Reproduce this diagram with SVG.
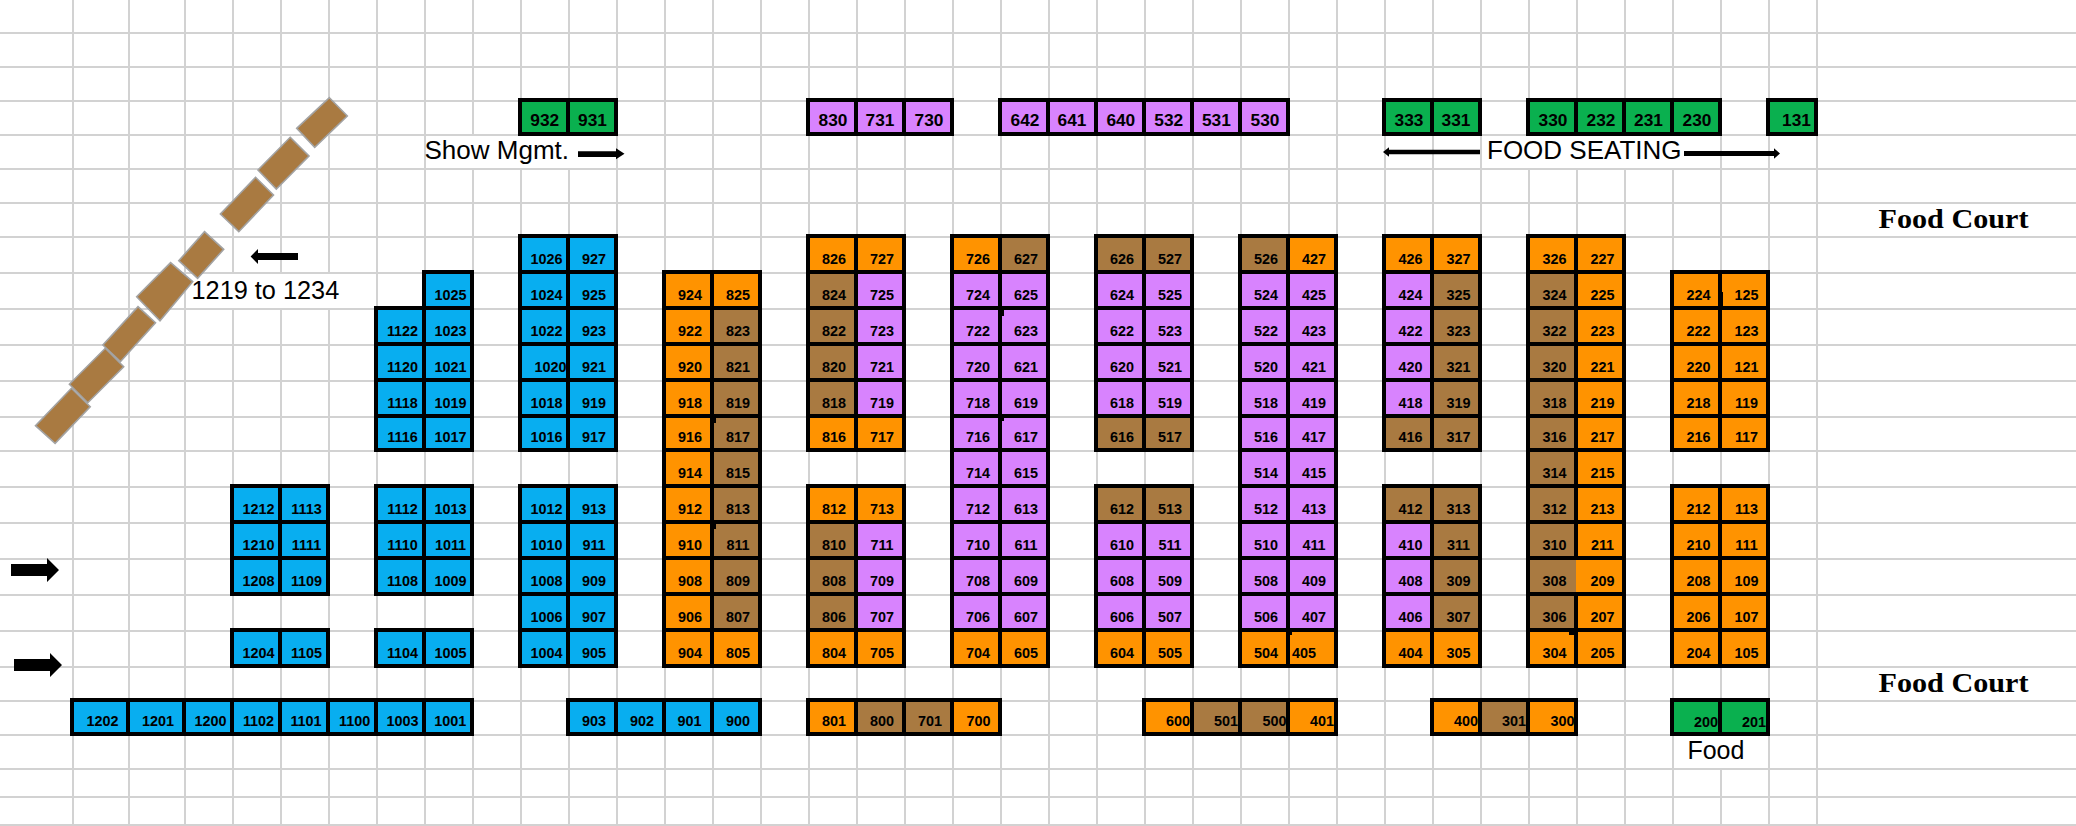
<svg xmlns="http://www.w3.org/2000/svg" width="2076" height="826" viewBox="0 0 2076 826">
<style>
.grid line{stroke:#d2d2d2;stroke-width:2}
.c rect,rect.c{stroke:#000;stroke-width:4}
.bl{fill:#08AEF0}.or{fill:#FF9300}.br{fill:#A97A41}.pu{fill:#D883FE}.gr{fill:#0AB04F}
text{font-family:"Liberation Sans",Arial,sans-serif;fill:#000}
.n text,text.n{font-size:14.4px;font-weight:700;text-anchor:middle}
.t text,text.t{font-size:17.3px;font-weight:700;text-anchor:middle}
.lab{font-size:26px}
.fc{font-family:"Liberation Serif","Times New Roman",serif;font-size:28px;font-weight:700}
.tilt polygon{fill:#A97A41;stroke:#a3a3a3;stroke-width:1.6}
#connectors polygon{fill:#000}
</style>
<g class="grid">
<line x1="0" x2="2076" y1="33" y2="33"/><line x1="0" x2="2076" y1="67" y2="67"/><line x1="0" x2="2076" y1="101" y2="101"/><line x1="0" x2="2076" y1="135" y2="135"/><line x1="0" x2="2076" y1="169" y2="169"/><line x1="0" x2="2076" y1="203" y2="203"/><line x1="0" x2="2076" y1="237" y2="237"/><line x1="0" x2="2076" y1="273" y2="273"/><line x1="0" x2="2076" y1="309" y2="309"/><line x1="0" x2="2076" y1="345" y2="345"/><line x1="0" x2="2076" y1="381" y2="381"/><line x1="0" x2="2076" y1="417" y2="417"/><line x1="0" x2="2076" y1="451" y2="451"/><line x1="0" x2="2076" y1="487" y2="487"/><line x1="0" x2="2076" y1="523" y2="523"/><line x1="0" x2="2076" y1="559" y2="559"/><line x1="0" x2="2076" y1="595" y2="595"/><line x1="0" x2="2076" y1="631" y2="631"/><line x1="0" x2="2076" y1="667" y2="667"/><line x1="0" x2="2076" y1="701" y2="701"/><line x1="0" x2="2076" y1="735" y2="735"/><line x1="0" x2="2076" y1="769" y2="769"/><line x1="0" x2="2076" y1="797" y2="797"/><line x1="0" x2="2076" y1="825" y2="825"/>
<line y1="0" y2="826" x1="73" x2="73"/><line y1="0" y2="826" x1="129" x2="129"/><line y1="0" y2="826" x1="185" x2="185"/><line y1="0" y2="826" x1="233" x2="233"/><line y1="0" y2="826" x1="281" x2="281"/><line y1="0" y2="826" x1="329" x2="329"/><line y1="0" y2="826" x1="377" x2="377"/><line y1="0" y2="826" x1="425" x2="425"/><line y1="0" y2="826" x1="473" x2="473"/><line y1="0" y2="826" x1="521" x2="521"/><line y1="0" y2="826" x1="569" x2="569"/><line y1="0" y2="826" x1="617" x2="617"/><line y1="0" y2="826" x1="665" x2="665"/><line y1="0" y2="826" x1="713" x2="713"/><line y1="0" y2="826" x1="761" x2="761"/><line y1="0" y2="826" x1="809" x2="809"/><line y1="0" y2="826" x1="857" x2="857"/><line y1="0" y2="826" x1="905" x2="905"/><line y1="0" y2="826" x1="953" x2="953"/><line y1="0" y2="826" x1="1001" x2="1001"/><line y1="0" y2="826" x1="1049" x2="1049"/><line y1="0" y2="826" x1="1097" x2="1097"/><line y1="0" y2="826" x1="1145" x2="1145"/><line y1="0" y2="826" x1="1193" x2="1193"/><line y1="0" y2="826" x1="1241" x2="1241"/><line y1="0" y2="826" x1="1289" x2="1289"/><line y1="0" y2="826" x1="1337" x2="1337"/><line y1="0" y2="826" x1="1385" x2="1385"/><line y1="0" y2="826" x1="1433" x2="1433"/><line y1="0" y2="826" x1="1481" x2="1481"/><line y1="0" y2="826" x1="1529" x2="1529"/><line y1="0" y2="826" x1="1577" x2="1577"/><line y1="0" y2="826" x1="1625" x2="1625"/><line y1="0" y2="826" x1="1673" x2="1673"/><line y1="0" y2="826" x1="1721" x2="1721"/><line y1="0" y2="826" x1="1769" x2="1769"/><line y1="0" y2="826" x1="1817" x2="1817"/>
</g>
<g id="label-backgrounds" fill="#fff">
<rect x="186" y="274" width="190" height="34"/>
<rect x="426" y="136" width="190" height="32"/>
<rect x="1482" y="136" width="238" height="32"/>
<rect x="1674" y="736" width="94" height="32"/>
</g>
<g id="tilted-row" class="tilt">
<polygon points="329.4,97.7 347.3,116 314.7,147.3 296.7,128.3"/>
<polygon points="290.2,137.3 309,156 276.3,189 258,170"/>
<polygon points="255.5,177.3 273.5,195 238.8,231.7 220.4,214"/>
<polygon points="204.5,231.7 223.7,249.3 197.6,278.3 178.8,260.7"/>
<polygon points="170.6,262.7 192.7,281.7 160,320.7 136.7,296.7"/>
<polygon points="138,306.7 155.5,322.7 120.4,361.7 102.9,345"/>
<polygon points="105.3,348.3 123.7,366.7 87.8,402.7 69.4,384.3"/>
<polygon points="71.4,388.3 90.2,406.7 55.1,443.3 35.5,425.7"/>
</g>
<g id="top-row" class="c t">
<g id="n932"><rect class="gr" x="520" y="100" width="48" height="34"/><text x="544.7" y="126">932</text></g>
<g id="n931"><rect class="gr" x="568" y="100" width="48" height="34"/><text x="592.5" y="126">931</text></g>
<g id="n830"><rect class="pu" x="808" y="100" width="48" height="34"/><text x="833" y="126">830</text></g>
<g id="n731"><rect class="pu" x="856" y="100" width="48" height="34"/><text x="880" y="126">731</text></g>
<g id="n730"><rect class="pu" x="904" y="100" width="48" height="34"/><text x="929" y="126">730</text></g>
<g id="n642"><rect class="pu" x="1000" y="100" width="48" height="34"/><text x="1025" y="126">642</text></g>
<g id="n641"><rect class="pu" x="1048" y="100" width="48" height="34"/><text x="1072" y="126">641</text></g>
<g id="n640"><rect class="pu" x="1096" y="100" width="48" height="34"/><text x="1120.8" y="126">640</text></g>
<g id="n532"><rect class="pu" x="1144" y="100" width="48" height="34"/><text x="1168.7" y="126">532</text></g>
<g id="n531"><rect class="pu" x="1192" y="100" width="48" height="34"/><text x="1216.4" y="126">531</text></g>
<g id="n530"><rect class="pu" x="1240" y="100" width="48" height="34"/><text x="1265" y="126">530</text></g>
<g id="n333"><rect class="gr" x="1384" y="100" width="48" height="34"/><text x="1409" y="126">333</text></g>
<g id="n331"><rect class="gr" x="1432" y="100" width="48" height="34"/><text x="1456" y="126">331</text></g>
<g id="n330"><rect class="gr" x="1528" y="100" width="48" height="34"/><text x="1553" y="126">330</text></g>
<g id="n232"><rect class="gr" x="1576" y="100" width="48" height="34"/><text x="1601" y="126">232</text></g>
<g id="n231"><rect class="gr" x="1624" y="100" width="48" height="34"/><text x="1648.5" y="126">231</text></g>
<g id="n230"><rect class="gr" x="1672" y="100" width="48" height="34"/><text x="1697" y="126">230</text></g>
<g id="n131"><rect class="gr" x="1768" y="100" width="48" height="34"/><text x="1796.5" y="126">131</text></g>
</g>
<g id="block-a" class="c n">
<g id="n1212"><rect class="bl" x="232" y="486" width="48" height="36"/><text x="258.5" y="514">1212</text></g>
<g id="n1113"><rect class="bl" x="280" y="486" width="48" height="36"/><text x="306.5" y="514">1113</text></g>
<g id="n1210"><rect class="bl" x="232" y="522" width="48" height="36"/><text x="258.5" y="550">1210</text></g>
<g id="n1111"><rect class="bl" x="280" y="522" width="48" height="36"/><text x="306.5" y="550">1111</text></g>
<g id="n1208"><rect class="bl" x="232" y="558" width="48" height="36"/><text x="258.5" y="586">1208</text></g>
<g id="n1109"><rect class="bl" x="280" y="558" width="48" height="36"/><text x="306.5" y="586">1109</text></g>
<g id="n1204"><rect class="bl" x="232" y="630" width="48" height="36"/><text x="258.5" y="658">1204</text></g>
<g id="n1105"><rect class="bl" x="280" y="630" width="48" height="36"/><text x="306.5" y="658">1105</text></g>
</g>
<g id="block-b" class="c n">
<g id="n1025"><rect class="bl" x="424" y="272" width="48" height="36"/><text x="450.5" y="300">1025</text></g>
<g id="n1122"><rect class="bl" x="376" y="308" width="48" height="36"/><text x="402.5" y="336">1122</text></g>
<g id="n1023"><rect class="bl" x="424" y="308" width="48" height="36"/><text x="450.5" y="336">1023</text></g>
<g id="n1120"><rect class="bl" x="376" y="344" width="48" height="36"/><text x="402.5" y="372">1120</text></g>
<g id="n1021"><rect class="bl" x="424" y="344" width="48" height="36"/><text x="450.5" y="372">1021</text></g>
<g id="n1118"><rect class="bl" x="376" y="380" width="48" height="36"/><text x="402.5" y="408">1118</text></g>
<g id="n1019"><rect class="bl" x="424" y="380" width="48" height="36"/><text x="450.5" y="408">1019</text></g>
<g id="n1116"><rect class="bl" x="376" y="416" width="48" height="34"/><text x="402.5" y="442">1116</text></g>
<g id="n1017"><rect class="bl" x="424" y="416" width="48" height="34"/><text x="450.5" y="442">1017</text></g>
<g id="n1112"><rect class="bl" x="376" y="486" width="48" height="36"/><text x="402.5" y="514">1112</text></g>
<g id="n1013"><rect class="bl" x="424" y="486" width="48" height="36"/><text x="450.5" y="514">1013</text></g>
<g id="n1110"><rect class="bl" x="376" y="522" width="48" height="36"/><text x="402.5" y="550">1110</text></g>
<g id="n1011"><rect class="bl" x="424" y="522" width="48" height="36"/><text x="450.5" y="550">1011</text></g>
<g id="n1108"><rect class="bl" x="376" y="558" width="48" height="36"/><text x="402.5" y="586">1108</text></g>
<g id="n1009"><rect class="bl" x="424" y="558" width="48" height="36"/><text x="450.5" y="586">1009</text></g>
<g id="n1104"><rect class="bl" x="376" y="630" width="48" height="36"/><text x="402.5" y="658">1104</text></g>
<g id="n1005"><rect class="bl" x="424" y="630" width="48" height="36"/><text x="450.5" y="658">1005</text></g>
</g>
<g id="block-c" class="c n">
<g id="n1026"><rect class="bl" x="520" y="236" width="48" height="36"/><text x="546.5" y="264">1026</text></g>
<g id="n927"><rect class="bl" x="568" y="236" width="48" height="36"/><text x="594" y="264">927</text></g>
<g id="n1024"><rect class="bl" x="520" y="272" width="48" height="36"/><text x="546.5" y="300">1024</text></g>
<g id="n925"><rect class="bl" x="568" y="272" width="48" height="36"/><text x="594" y="300">925</text></g>
<g id="n1022"><rect class="bl" x="520" y="308" width="48" height="36"/><text x="546.5" y="336">1022</text></g>
<g id="n923"><rect class="bl" x="568" y="308" width="48" height="36"/><text x="594" y="336">923</text></g>
<g id="n1020"><rect class="bl" x="520" y="344" width="48" height="36"/><text x="550.5" y="372">1020</text></g>
<g id="n921"><rect class="bl" x="568" y="344" width="48" height="36"/><text x="594" y="372">921</text></g>
<g id="n1018"><rect class="bl" x="520" y="380" width="48" height="36"/><text x="546.5" y="408">1018</text></g>
<g id="n919"><rect class="bl" x="568" y="380" width="48" height="36"/><text x="594" y="408">919</text></g>
<g id="n1016"><rect class="bl" x="520" y="416" width="48" height="34"/><text x="546.5" y="442">1016</text></g>
<g id="n917"><rect class="bl" x="568" y="416" width="48" height="34"/><text x="594" y="442">917</text></g>
<g id="n1012"><rect class="bl" x="520" y="486" width="48" height="36"/><text x="546.5" y="514">1012</text></g>
<g id="n913"><rect class="bl" x="568" y="486" width="48" height="36"/><text x="594" y="514">913</text></g>
<g id="n1010"><rect class="bl" x="520" y="522" width="48" height="36"/><text x="546.5" y="550">1010</text></g>
<g id="n911"><rect class="bl" x="568" y="522" width="48" height="36"/><text x="594" y="550">911</text></g>
<g id="n1008"><rect class="bl" x="520" y="558" width="48" height="36"/><text x="546.5" y="586">1008</text></g>
<g id="n909"><rect class="bl" x="568" y="558" width="48" height="36"/><text x="594" y="586">909</text></g>
<g id="n1006"><rect class="bl" x="520" y="594" width="48" height="36"/><text x="546.5" y="622">1006</text></g>
<g id="n907"><rect class="bl" x="568" y="594" width="48" height="36"/><text x="594" y="622">907</text></g>
<g id="n1004"><rect class="bl" x="520" y="630" width="48" height="36"/><text x="546.5" y="658">1004</text></g>
<g id="n905"><rect class="bl" x="568" y="630" width="48" height="36"/><text x="594" y="658">905</text></g>
</g>
<g id="block-d" class="c n">
<g id="n924"><rect class="or" x="664" y="272" width="48" height="36"/><text x="690" y="300">924</text></g>
<g id="n825"><rect class="or" x="712" y="272" width="48" height="36"/><text x="738" y="300">825</text></g>
<g id="n922"><rect class="or" x="664" y="308" width="48" height="36"/><text x="690" y="336">922</text></g>
<g id="n823"><rect class="br" x="712" y="308" width="48" height="36"/><text x="738" y="336">823</text></g>
<g id="n920"><rect class="or" x="664" y="344" width="48" height="36"/><text x="690" y="372">920</text></g>
<g id="n821"><rect class="br" x="712" y="344" width="48" height="36"/><text x="738" y="372">821</text></g>
<g id="n918"><rect class="or" x="664" y="380" width="48" height="36"/><text x="690" y="408">918</text></g>
<g id="n819"><rect class="br" x="712" y="380" width="48" height="36"/><text x="738" y="408">819</text></g>
<g id="n916"><rect class="or" x="664" y="416" width="48" height="34"/><text x="690" y="442">916</text></g>
<g id="n817"><rect class="br" x="712" y="416" width="48" height="34"/><text x="738" y="442">817</text></g>
<g id="n914"><rect class="or" x="664" y="450" width="48" height="36"/><text x="690" y="478">914</text></g>
<g id="n815"><rect class="br" x="712" y="450" width="48" height="36"/><text x="738" y="478">815</text></g>
<g id="n912"><rect class="or" x="664" y="486" width="48" height="36"/><text x="690" y="514">912</text></g>
<g id="n813"><rect class="br" x="712" y="486" width="48" height="36"/><text x="738" y="514">813</text></g>
<g id="n910"><rect class="or" x="664" y="522" width="48" height="36"/><text x="690" y="550">910</text></g>
<g id="n811"><rect class="br" x="712" y="522" width="48" height="36"/><text x="738" y="550">811</text></g>
<g id="n908"><rect class="or" x="664" y="558" width="48" height="36"/><text x="690" y="586">908</text></g>
<g id="n809"><rect class="br" x="712" y="558" width="48" height="36"/><text x="738" y="586">809</text></g>
<g id="n906"><rect class="or" x="664" y="594" width="48" height="36"/><text x="690" y="622">906</text></g>
<g id="n807"><rect class="br" x="712" y="594" width="48" height="36"/><text x="738" y="622">807</text></g>
<g id="n904"><rect class="or" x="664" y="630" width="48" height="36"/><text x="690" y="658">904</text></g>
<g id="n805"><rect class="or" x="712" y="630" width="48" height="36"/><text x="738" y="658">805</text></g>
</g>
<g id="block-e" class="c n">
<g id="n826"><rect class="or" x="808" y="236" width="48" height="36"/><text x="834" y="264">826</text></g>
<g id="n727"><rect class="or" x="856" y="236" width="48" height="36"/><text x="882" y="264">727</text></g>
<g id="n824"><rect class="br" x="808" y="272" width="48" height="36"/><text x="834" y="300">824</text></g>
<g id="n725"><rect class="pu" x="856" y="272" width="48" height="36"/><text x="882" y="300">725</text></g>
<g id="n822"><rect class="br" x="808" y="308" width="48" height="36"/><text x="834" y="336">822</text></g>
<g id="n723"><rect class="pu" x="856" y="308" width="48" height="36"/><text x="882" y="336">723</text></g>
<g id="n820"><rect class="br" x="808" y="344" width="48" height="36"/><text x="834" y="372">820</text></g>
<g id="n721"><rect class="pu" x="856" y="344" width="48" height="36"/><text x="882" y="372">721</text></g>
<g id="n818"><rect class="br" x="808" y="380" width="48" height="36"/><text x="834" y="408">818</text></g>
<g id="n719"><rect class="pu" x="856" y="380" width="48" height="36"/><text x="882" y="408">719</text></g>
<g id="n816"><rect class="or" x="808" y="416" width="48" height="34"/><text x="834" y="442">816</text></g>
<g id="n717"><rect class="or" x="856" y="416" width="48" height="34"/><text x="882" y="442">717</text></g>
<g id="n812"><rect class="or" x="808" y="486" width="48" height="36"/><text x="834" y="514">812</text></g>
<g id="n713"><rect class="or" x="856" y="486" width="48" height="36"/><text x="882" y="514">713</text></g>
<g id="n810"><rect class="br" x="808" y="522" width="48" height="36"/><text x="834" y="550">810</text></g>
<g id="n711"><rect class="pu" x="856" y="522" width="48" height="36"/><text x="882" y="550">711</text></g>
<g id="n808"><rect class="br" x="808" y="558" width="48" height="36"/><text x="834" y="586">808</text></g>
<g id="n709"><rect class="pu" x="856" y="558" width="48" height="36"/><text x="882" y="586">709</text></g>
<g id="n806"><rect class="br" x="808" y="594" width="48" height="36"/><text x="834" y="622">806</text></g>
<g id="n707"><rect class="pu" x="856" y="594" width="48" height="36"/><text x="882" y="622">707</text></g>
<g id="n804"><rect class="or" x="808" y="630" width="48" height="36"/><text x="834" y="658">804</text></g>
<g id="n705"><rect class="or" x="856" y="630" width="48" height="36"/><text x="882" y="658">705</text></g>
</g>
<g id="block-f" class="c n">
<g id="n726"><rect class="or" x="952" y="236" width="48" height="36"/><text x="978" y="264">726</text></g>
<g id="n627"><rect class="br" x="1000" y="236" width="48" height="36"/><text x="1026" y="264">627</text></g>
<g id="n724"><rect class="pu" x="952" y="272" width="48" height="36"/><text x="978" y="300">724</text></g>
<g id="n625"><rect class="pu" x="1000" y="272" width="48" height="36"/><text x="1026" y="300">625</text></g>
<g id="n722"><rect class="pu" x="952" y="308" width="48" height="36"/><text x="978" y="336">722</text></g>
<g id="n623"><rect class="pu" x="1000" y="308" width="48" height="36"/><text x="1026" y="336">623</text></g>
<g id="n720"><rect class="pu" x="952" y="344" width="48" height="36"/><text x="978" y="372">720</text></g>
<g id="n621"><rect class="pu" x="1000" y="344" width="48" height="36"/><text x="1026" y="372">621</text></g>
<g id="n718"><rect class="pu" x="952" y="380" width="48" height="36"/><text x="978" y="408">718</text></g>
<g id="n619"><rect class="pu" x="1000" y="380" width="48" height="36"/><text x="1026" y="408">619</text></g>
<g id="n716"><rect class="pu" x="952" y="416" width="48" height="34"/><text x="978" y="442">716</text></g>
<g id="n617"><rect class="pu" x="1000" y="416" width="48" height="34"/><text x="1026" y="442">617</text></g>
<g id="n714"><rect class="pu" x="952" y="450" width="48" height="36"/><text x="978" y="478">714</text></g>
<g id="n615"><rect class="pu" x="1000" y="450" width="48" height="36"/><text x="1026" y="478">615</text></g>
<g id="n712"><rect class="pu" x="952" y="486" width="48" height="36"/><text x="978" y="514">712</text></g>
<g id="n613"><rect class="pu" x="1000" y="486" width="48" height="36"/><text x="1026" y="514">613</text></g>
<g id="n710"><rect class="pu" x="952" y="522" width="48" height="36"/><text x="978" y="550">710</text></g>
<g id="n611"><rect class="pu" x="1000" y="522" width="48" height="36"/><text x="1026" y="550">611</text></g>
<g id="n708"><rect class="pu" x="952" y="558" width="48" height="36"/><text x="978" y="586">708</text></g>
<g id="n609"><rect class="pu" x="1000" y="558" width="48" height="36"/><text x="1026" y="586">609</text></g>
<g id="n706"><rect class="pu" x="952" y="594" width="48" height="36"/><text x="978" y="622">706</text></g>
<g id="n607"><rect class="pu" x="1000" y="594" width="48" height="36"/><text x="1026" y="622">607</text></g>
<g id="n704"><rect class="or" x="952" y="630" width="48" height="36"/><text x="978" y="658">704</text></g>
<g id="n605"><rect class="or" x="1000" y="630" width="48" height="36"/><text x="1026" y="658">605</text></g>
</g>
<g id="block-g" class="c n">
<g id="n626"><rect class="br" x="1096" y="236" width="48" height="36"/><text x="1122" y="264">626</text></g>
<g id="n527"><rect class="br" x="1144" y="236" width="48" height="36"/><text x="1170" y="264">527</text></g>
<g id="n624"><rect class="pu" x="1096" y="272" width="48" height="36"/><text x="1122" y="300">624</text></g>
<g id="n525"><rect class="pu" x="1144" y="272" width="48" height="36"/><text x="1170" y="300">525</text></g>
<g id="n622"><rect class="pu" x="1096" y="308" width="48" height="36"/><text x="1122" y="336">622</text></g>
<g id="n523"><rect class="pu" x="1144" y="308" width="48" height="36"/><text x="1170" y="336">523</text></g>
<g id="n620"><rect class="pu" x="1096" y="344" width="48" height="36"/><text x="1122" y="372">620</text></g>
<g id="n521"><rect class="pu" x="1144" y="344" width="48" height="36"/><text x="1170" y="372">521</text></g>
<g id="n618"><rect class="pu" x="1096" y="380" width="48" height="36"/><text x="1122" y="408">618</text></g>
<g id="n519"><rect class="pu" x="1144" y="380" width="48" height="36"/><text x="1170" y="408">519</text></g>
<g id="n616"><rect class="br" x="1096" y="416" width="48" height="34"/><text x="1122" y="442">616</text></g>
<g id="n517"><rect class="br" x="1144" y="416" width="48" height="34"/><text x="1170" y="442">517</text></g>
<g id="n612"><rect class="br" x="1096" y="486" width="48" height="36"/><text x="1122" y="514">612</text></g>
<g id="n513"><rect class="br" x="1144" y="486" width="48" height="36"/><text x="1170" y="514">513</text></g>
<g id="n610"><rect class="pu" x="1096" y="522" width="48" height="36"/><text x="1122" y="550">610</text></g>
<g id="n511"><rect class="pu" x="1144" y="522" width="48" height="36"/><text x="1170" y="550">511</text></g>
<g id="n608"><rect class="pu" x="1096" y="558" width="48" height="36"/><text x="1122" y="586">608</text></g>
<g id="n509"><rect class="pu" x="1144" y="558" width="48" height="36"/><text x="1170" y="586">509</text></g>
<g id="n606"><rect class="pu" x="1096" y="594" width="48" height="36"/><text x="1122" y="622">606</text></g>
<g id="n507"><rect class="pu" x="1144" y="594" width="48" height="36"/><text x="1170" y="622">507</text></g>
<g id="n604"><rect class="or" x="1096" y="630" width="48" height="36"/><text x="1122" y="658">604</text></g>
<g id="n505"><rect class="or" x="1144" y="630" width="48" height="36"/><text x="1170" y="658">505</text></g>
</g>
<g id="block-h" class="c n">
<g id="n526"><rect class="br" x="1240" y="236" width="48" height="36"/><text x="1266" y="264">526</text></g>
<g id="n427"><rect class="or" x="1288" y="236" width="48" height="36"/><text x="1314" y="264">427</text></g>
<g id="n524"><rect class="pu" x="1240" y="272" width="48" height="36"/><text x="1266" y="300">524</text></g>
<g id="n425"><rect class="pu" x="1288" y="272" width="48" height="36"/><text x="1314" y="300">425</text></g>
<g id="n522"><rect class="pu" x="1240" y="308" width="48" height="36"/><text x="1266" y="336">522</text></g>
<g id="n423"><rect class="pu" x="1288" y="308" width="48" height="36"/><text x="1314" y="336">423</text></g>
<g id="n520"><rect class="pu" x="1240" y="344" width="48" height="36"/><text x="1266" y="372">520</text></g>
<g id="n421"><rect class="pu" x="1288" y="344" width="48" height="36"/><text x="1314" y="372">421</text></g>
<g id="n518"><rect class="pu" x="1240" y="380" width="48" height="36"/><text x="1266" y="408">518</text></g>
<g id="n419"><rect class="pu" x="1288" y="380" width="48" height="36"/><text x="1314" y="408">419</text></g>
<g id="n516"><rect class="pu" x="1240" y="416" width="48" height="34"/><text x="1266" y="442">516</text></g>
<g id="n417"><rect class="pu" x="1288" y="416" width="48" height="34"/><text x="1314" y="442">417</text></g>
<g id="n514"><rect class="pu" x="1240" y="450" width="48" height="36"/><text x="1266" y="478">514</text></g>
<g id="n415"><rect class="pu" x="1288" y="450" width="48" height="36"/><text x="1314" y="478">415</text></g>
<g id="n512"><rect class="pu" x="1240" y="486" width="48" height="36"/><text x="1266" y="514">512</text></g>
<g id="n413"><rect class="pu" x="1288" y="486" width="48" height="36"/><text x="1314" y="514">413</text></g>
<g id="n510"><rect class="pu" x="1240" y="522" width="48" height="36"/><text x="1266" y="550">510</text></g>
<g id="n411"><rect class="pu" x="1288" y="522" width="48" height="36"/><text x="1314" y="550">411</text></g>
<g id="n508"><rect class="pu" x="1240" y="558" width="48" height="36"/><text x="1266" y="586">508</text></g>
<g id="n409"><rect class="pu" x="1288" y="558" width="48" height="36"/><text x="1314" y="586">409</text></g>
<g id="n506"><rect class="pu" x="1240" y="594" width="48" height="36"/><text x="1266" y="622">506</text></g>
<g id="n407"><rect class="pu" x="1288" y="594" width="48" height="36"/><text x="1314" y="622">407</text></g>
<g id="n504"><rect class="or" x="1240" y="630" width="48" height="36"/><text x="1266" y="658">504</text></g>
<g id="n405"><rect class="or" x="1288" y="630" width="48" height="36"/><text x="1304" y="658">405</text></g>
</g>
<g id="block-i" class="c n">
<g id="n426"><rect class="or" x="1384" y="236" width="48" height="36"/><text x="1410.5" y="264">426</text></g>
<g id="n327"><rect class="or" x="1432" y="236" width="48" height="36"/><text x="1458.5" y="264">327</text></g>
<g id="n424"><rect class="pu" x="1384" y="272" width="48" height="36"/><text x="1410.5" y="300">424</text></g>
<g id="n325"><rect class="br" x="1432" y="272" width="48" height="36"/><text x="1458.5" y="300">325</text></g>
<g id="n422"><rect class="pu" x="1384" y="308" width="48" height="36"/><text x="1410.5" y="336">422</text></g>
<g id="n323"><rect class="br" x="1432" y="308" width="48" height="36"/><text x="1458.5" y="336">323</text></g>
<g id="n420"><rect class="pu" x="1384" y="344" width="48" height="36"/><text x="1410.5" y="372">420</text></g>
<g id="n321"><rect class="br" x="1432" y="344" width="48" height="36"/><text x="1458.5" y="372">321</text></g>
<g id="n418"><rect class="pu" x="1384" y="380" width="48" height="36"/><text x="1410.5" y="408">418</text></g>
<g id="n319"><rect class="br" x="1432" y="380" width="48" height="36"/><text x="1458.5" y="408">319</text></g>
<g id="n416"><rect class="br" x="1384" y="416" width="48" height="34"/><text x="1410.5" y="442">416</text></g>
<g id="n317"><rect class="br" x="1432" y="416" width="48" height="34"/><text x="1458.5" y="442">317</text></g>
<g id="n412"><rect class="br" x="1384" y="486" width="48" height="36"/><text x="1410.5" y="514">412</text></g>
<g id="n313"><rect class="br" x="1432" y="486" width="48" height="36"/><text x="1458.5" y="514">313</text></g>
<g id="n410"><rect class="pu" x="1384" y="522" width="48" height="36"/><text x="1410.5" y="550">410</text></g>
<g id="n311"><rect class="br" x="1432" y="522" width="48" height="36"/><text x="1458.5" y="550">311</text></g>
<g id="n408"><rect class="pu" x="1384" y="558" width="48" height="36"/><text x="1410.5" y="586">408</text></g>
<g id="n309"><rect class="br" x="1432" y="558" width="48" height="36"/><text x="1458.5" y="586">309</text></g>
<g id="n406"><rect class="pu" x="1384" y="594" width="48" height="36"/><text x="1410.5" y="622">406</text></g>
<g id="n307"><rect class="br" x="1432" y="594" width="48" height="36"/><text x="1458.5" y="622">307</text></g>
<g id="n404"><rect class="or" x="1384" y="630" width="48" height="36"/><text x="1410.5" y="658">404</text></g>
<g id="n305"><rect class="or" x="1432" y="630" width="48" height="36"/><text x="1458.5" y="658">305</text></g>
</g>
<g id="block-j" class="c n">
<g id="n326"><rect class="or" x="1528" y="236" width="48" height="36"/><text x="1554.5" y="264">326</text></g>
<g id="n227"><rect class="or" x="1576" y="236" width="48" height="36"/><text x="1602.5" y="264">227</text></g>
<g id="n324"><rect class="br" x="1528" y="272" width="48" height="36"/><text x="1554.5" y="300">324</text></g>
<g id="n225"><rect class="or" x="1576" y="272" width="48" height="36"/><text x="1602.5" y="300">225</text></g>
<g id="n322"><rect class="br" x="1528" y="308" width="48" height="36"/><text x="1554.5" y="336">322</text></g>
<g id="n223"><rect class="or" x="1576" y="308" width="48" height="36"/><text x="1602.5" y="336">223</text></g>
<g id="n320"><rect class="br" x="1528" y="344" width="48" height="36"/><text x="1554.5" y="372">320</text></g>
<g id="n221"><rect class="or" x="1576" y="344" width="48" height="36"/><text x="1602.5" y="372">221</text></g>
<g id="n318"><rect class="br" x="1528" y="380" width="48" height="36"/><text x="1554.5" y="408">318</text></g>
<g id="n219"><rect class="or" x="1576" y="380" width="48" height="36"/><text x="1602.5" y="408">219</text></g>
<g id="n316"><rect class="br" x="1528" y="416" width="48" height="34"/><text x="1554.5" y="442">316</text></g>
<g id="n217"><rect class="or" x="1576" y="416" width="48" height="34"/><text x="1602.5" y="442">217</text></g>
<g id="n314"><rect class="br" x="1528" y="450" width="48" height="36"/><text x="1554.5" y="478">314</text></g>
<g id="n215"><rect class="or" x="1576" y="450" width="48" height="36"/><text x="1602.5" y="478">215</text></g>
<g id="n312"><rect class="br" x="1528" y="486" width="48" height="36"/><text x="1554.5" y="514">312</text></g>
<g id="n213"><rect class="or" x="1576" y="486" width="48" height="36"/><text x="1602.5" y="514">213</text></g>
<g id="n310"><rect class="br" x="1528" y="522" width="48" height="36"/><text x="1554.5" y="550">310</text></g>
<g id="n211"><rect class="or" x="1576" y="522" width="48" height="36"/><text x="1602.5" y="550">211</text></g>
<g id="n308"><rect class="br" x="1528" y="558" width="48" height="36"/><text x="1554.5" y="586">308</text></g>
<g id="n209"><rect class="or" x="1576" y="558" width="48" height="36"/><text x="1602.5" y="586">209</text></g>
<g id="n306"><rect class="br" x="1528" y="594" width="48" height="36"/><text x="1554.5" y="622">306</text></g>
<g id="n207"><rect class="or" x="1576" y="594" width="48" height="36"/><text x="1602.5" y="622">207</text></g>
<g id="n304"><rect class="or" x="1528" y="630" width="48" height="36"/><text x="1554.5" y="658">304</text></g>
<g id="n205"><rect class="or" x="1576" y="630" width="48" height="36"/><text x="1602.5" y="658">205</text></g>
</g>
<g id="block-k" class="c n">
<g id="n224"><rect class="or" x="1672" y="272" width="48" height="36"/><text x="1698.5" y="300">224</text></g>
<g id="n125"><rect class="or" x="1720" y="272" width="48" height="36"/><text x="1746.5" y="300">125</text></g>
<g id="n222"><rect class="or" x="1672" y="308" width="48" height="36"/><text x="1698.5" y="336">222</text></g>
<g id="n123"><rect class="or" x="1720" y="308" width="48" height="36"/><text x="1746.5" y="336">123</text></g>
<g id="n220"><rect class="or" x="1672" y="344" width="48" height="36"/><text x="1698.5" y="372">220</text></g>
<g id="n121"><rect class="or" x="1720" y="344" width="48" height="36"/><text x="1746.5" y="372">121</text></g>
<g id="n218"><rect class="or" x="1672" y="380" width="48" height="36"/><text x="1698.5" y="408">218</text></g>
<g id="n119"><rect class="or" x="1720" y="380" width="48" height="36"/><text x="1746.5" y="408">119</text></g>
<g id="n216"><rect class="or" x="1672" y="416" width="48" height="34"/><text x="1698.5" y="442">216</text></g>
<g id="n117"><rect class="or" x="1720" y="416" width="48" height="34"/><text x="1746.5" y="442">117</text></g>
<g id="n212"><rect class="or" x="1672" y="486" width="48" height="36"/><text x="1698.5" y="514">212</text></g>
<g id="n113"><rect class="or" x="1720" y="486" width="48" height="36"/><text x="1746.5" y="514">113</text></g>
<g id="n210"><rect class="or" x="1672" y="522" width="48" height="36"/><text x="1698.5" y="550">210</text></g>
<g id="n111"><rect class="or" x="1720" y="522" width="48" height="36"/><text x="1746.5" y="550">111</text></g>
<g id="n208"><rect class="or" x="1672" y="558" width="48" height="36"/><text x="1698.5" y="586">208</text></g>
<g id="n109"><rect class="or" x="1720" y="558" width="48" height="36"/><text x="1746.5" y="586">109</text></g>
<g id="n206"><rect class="or" x="1672" y="594" width="48" height="36"/><text x="1698.5" y="622">206</text></g>
<g id="n107"><rect class="or" x="1720" y="594" width="48" height="36"/><text x="1746.5" y="622">107</text></g>
<g id="n204"><rect class="or" x="1672" y="630" width="48" height="36"/><text x="1698.5" y="658">204</text></g>
<g id="n105"><rect class="or" x="1720" y="630" width="48" height="36"/><text x="1746.5" y="658">105</text></g>
</g>
<g id="bottom-row" class="c n">
<g id="n1202"><rect class="bl" x="72" y="700" width="56" height="34"/><text x="102.4" y="726">1202</text></g>
<g id="n1201"><rect class="bl" x="128" y="700" width="56" height="34"/><text x="158" y="726">1201</text></g>
<g id="n1200"><rect class="bl" x="184" y="700" width="48" height="34"/><text x="210.6" y="726">1200</text></g>
<g id="n1102"><rect class="bl" x="232" y="700" width="48" height="34"/><text x="258.5" y="726">1102</text></g>
<g id="n1101"><rect class="bl" x="280" y="700" width="48" height="34"/><text x="306" y="726">1101</text></g>
<g id="n1100"><rect class="bl" x="328" y="700" width="48" height="34"/><text x="354.7" y="726">1100</text></g>
<g id="n1003"><rect class="bl" x="376" y="700" width="48" height="34"/><text x="402.5" y="726">1003</text></g>
<g id="n1001"><rect class="bl" x="424" y="700" width="48" height="34"/><text x="450.2" y="726">1001</text></g>
<g id="n903"><rect class="bl" x="568" y="700" width="48" height="34"/><text x="594" y="726">903</text></g>
<g id="n902"><rect class="bl" x="616" y="700" width="48" height="34"/><text x="642" y="726">902</text></g>
<g id="n901"><rect class="bl" x="664" y="700" width="48" height="34"/><text x="689.6" y="726">901</text></g>
<g id="n900"><rect class="bl" x="712" y="700" width="48" height="34"/><text x="738" y="726">900</text></g>
<g id="n801"><rect class="or" x="808" y="700" width="48" height="34"/><text x="834" y="726">801</text></g>
<g id="n800"><rect class="br" x="856" y="700" width="48" height="34"/><text x="882" y="726">800</text></g>
<g id="n701"><rect class="br" x="904" y="700" width="48" height="34"/><text x="930" y="726">701</text></g>
<g id="n700"><rect class="or" x="952" y="700" width="48" height="34"/><text x="978.6" y="726">700</text></g>
<g id="n600"><rect class="or" x="1144" y="700" width="48" height="34"/><text x="1178" y="726">600</text></g>
<g id="n501"><rect class="br" x="1192" y="700" width="48" height="34"/><text x="1226" y="726">501</text></g>
<g id="n500"><rect class="br" x="1240" y="700" width="48" height="34"/><text x="1274.5" y="726">500</text></g>
<g id="n401"><rect class="or" x="1288" y="700" width="48" height="34"/><text x="1322" y="726">401</text></g>
<g id="n400"><rect class="or" x="1432" y="700" width="48" height="34"/><text x="1466" y="726">400</text></g>
<g id="n301"><rect class="br" x="1480" y="700" width="48" height="34"/><text x="1514" y="726">301</text></g>
<g id="n300"><rect class="or" x="1528" y="700" width="48" height="34"/><text x="1562.5" y="726">300</text></g>
<g id="n200"><rect class="gr" x="1672" y="700" width="48" height="34"/><text x="1706" y="726.5">200</text></g>
<g id="n201"><rect class="gr" x="1720" y="700" width="48" height="34"/><text x="1754" y="726.5">201</text></g>
</g>
<g id="cell-details">
<rect class="br" x="1574" y="560" width="2" height="32"/><rect class="or" x="1576" y="560" width="2" height="32"/>
<path d="M1002 309h2v7h-2zM1002 417h2v4h-2zM713 417h3v6h-3zM713 523h3v6h-3zM1290 631h2v4h-2zM1569 631h5v4h-5zM1721 292h2v14h-2z" fill="#000"/>
</g>
<g id="connectors">
<polygon points="250.6,256.5 258,249 258,253 298,253 298,260 258,260 258,264"/>
<polygon points="578,151.3 616,151.3 616,148.3 624.5,153.8 616,159.3 616,157 578,157"/>
<polygon points="11,564 47,564 47,558 59,570 47,582 47,576 11,576"/>
<polygon points="14,659 50,659 50,653 62,665 50,677 50,671 14,671"/>
<polygon points="1383,152 1389,147.3 1389,149.7 1480,149.7 1480,154.3 1389,154.3 1389,156.7"/>
<polygon points="1684,151 1774,151 1774,148.3 1780,153.5 1774,158.7 1774,156 1684,156"/>
</g>
<g id="labels">
<text class="lab" x="424.5" y="159.3">Show Mgmt.</text>
<text class="lab" x="191.5" y="299.3" style="font-size:25.3px">1219 to 1234</text>
<text class="lab" x="1487" y="159.3">FOOD SEATING</text>
<text class="lab" x="1687.4" y="759.3" style="font-size:25px">Food</text>
<text class="fc" x="1878.5" y="228.3" textLength="150" lengthAdjust="spacingAndGlyphs">Food Court</text>
<text class="fc" x="1878.5" y="691.7" textLength="150" lengthAdjust="spacingAndGlyphs">Food Court</text>
</g>
</svg>
